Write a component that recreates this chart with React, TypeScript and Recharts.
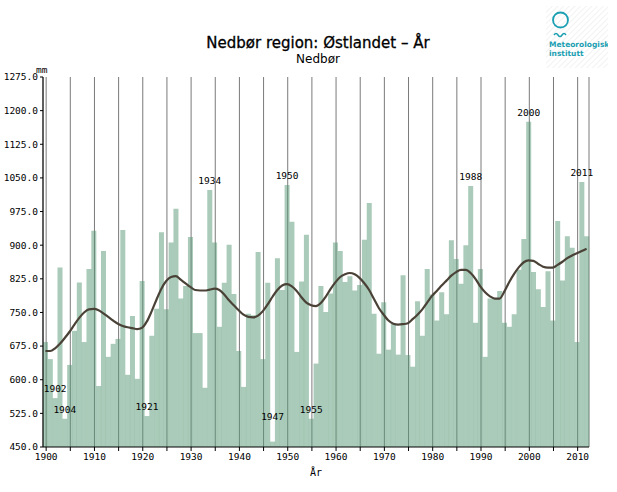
import React from "react";
import { ComposedChart, Bar, Line, XAxis, YAxis, CartesianGrid, LabelList } from "recharts";

const firstYear = 1900;

// årsnedbør Østlandet, mm (1900-2012)
const precipitation = [
  684, 646, 559, 850, 513, 633, 709, 817, 684, 847,
  932, 586, 887, 651, 680, 691, 934, 611, 742, 602,
  820, 519, 698, 758, 929, 757, 906, 981, 781, 809,
  918, 704, 704, 582, 1023, 906, 718, 816, 901, 791,
  664, 584, 747, 744, 885, 646, 816, 462, 871, 800,
  1034, 952, 662, 819, 923, 513, 636, 809, 751, 792,
  906, 887, 818, 831, 799, 811, 912, 994, 747, 658,
  773, 667, 725, 656, 833, 655, 629, 775, 698, 847,
  790, 732, 795, 746, 911, 869, 814, 900, 1032, 727,
  847, 651, 781, 782, 798, 727, 718, 746, 845, 914,
  1175, 840, 802, 762, 842, 732, 954, 821, 920, 894,
  684, 1041, 920,
];

// glattet kurve
const smoothed = [
  664, 664, 670, 680, 693, 707, 723, 738, 750, 757,
  758, 755, 748, 740, 732, 725, 720, 717, 715, 713,
  716, 730, 753, 779, 803, 820, 829, 831, 823, 815,
  807, 800, 799, 799, 801, 803, 800, 790, 777, 766,
  755, 745, 740, 739, 743, 753, 768, 785, 800, 810,
  813, 808, 798, 784, 772, 766, 764, 771, 785, 802,
  817, 829, 835, 838, 835, 827, 815, 800, 780, 760,
  745, 732, 725, 723, 724, 726, 735, 745, 757, 772,
  787, 798, 810, 821, 832, 840, 845, 845, 838, 825,
  808, 795, 786, 781, 781, 797, 818, 836, 851, 862,
  866, 865, 858, 852, 850, 850, 856, 863, 871, 877,
  882, 887, 892,
];

const markedYears = [1902, 1904, 1921, 1934, 1947, 1950, 1955, 1988, 2000, 2011];
const yTicks = [450, 525, 600, 675, 750, 825, 900, 975, 1050, 1125, 1200, 1275];
const xTicks = [1900, 1905, 1910, 1915, 1920, 1925, 1930, 1935, 1940, 1945, 1950, 1955, 1960, 1965, 1970, 1975, 1980, 1985, 1990, 1995, 2000, 2005, 2010];

const chartData = precipitation.map((v, i) => {
  const year = firstYear + i;
  return { year, value: v, trend: smoothed[i], label: markedYears.includes(year) ? String(year) : "" };
});

const mono = "'DejaVu Sans Mono', monospace";
const tickStyle = { fontSize: 9.5, fill: "#000", fontFamily: mono };

const renderMark = (props: any) => {
  const { x, y, width, value } = props;
  if (!value) return null;
  // labels never sit lower than this baseline
  const ty = Math.min(Number(y) - 6, 420);
  return (
    <text x={Number(x) + Number(width) / 2} y={ty} textAnchor="middle" fontSize={9.5} fontFamily={mono} fill="#000">
      {value}
    </text>
  );
};

function Logo() {
  const teal = "#1b9fb3";
  return (
    <svg width={62} height={62} style={{ position: "absolute", left: 546, top: 6 }}>
      <defs>
        <pattern id="hatch" width={4} height={4} patternUnits="userSpaceOnUse" patternTransform="rotate(45)">
          <line x1={0} y1={0} x2={0} y2={4} stroke="#eeeeee" strokeWidth={1.5} />
        </pattern>
      </defs>
      <rect x={0} y={0} width={62} height={62} fill="url(#hatch)" />
      <circle cx={14.5} cy={14} r={7.5} fill="none" stroke={teal} strokeWidth={1.8} />
      <path d="M8 29 q2 -3 4 0 t4 0 t4 0" fill="none" stroke={teal} strokeWidth={1.5} />
      <text x={3} y={41} fontSize={7.5} fontWeight="bold" fill={teal} fontFamily="'DejaVu Sans', sans-serif">Meteorologisk</text>
      <text x={3} y={50} fontSize={7.5} fontWeight="bold" fill={teal} fontFamily="'DejaVu Sans', sans-serif">institutt</text>
    </svg>
  );
}

export default function App() {
  return (
    <div style={{ position: "absolute", left: 0, top: 0, width: 617, height: 492, background: "#fff", fontFamily: "'DejaVu Sans', sans-serif", color: "#000" }}>
      <div style={{ position: "absolute", left: 318, top: 35, transform: "translateX(-50%)", fontSize: 15, whiteSpace: "nowrap", lineHeight: "17px", WebkitTextStroke: "0.3px #000" }}>
        Nedbør region: Østlandet – År
      </div>
      <div style={{ position: "absolute", left: 318, top: 52, transform: "translateX(-50%)", fontSize: 12, whiteSpace: "nowrap", lineHeight: "14px" }}>
        Nedbør
      </div>
      <div style={{ position: "absolute", left: 36, top: 64, fontSize: 9.5, fontFamily: mono, color: "#000", lineHeight: "11px" }}>mm</div>
      <Logo />
      <ComposedChart
        width={617}
        height={492}
        data={chartData}
        margin={{ top: 77, right: 28, bottom: 0, left: 3 }}
        barCategoryGap={0}
        barGap={0}
        style={{ position: "absolute", left: 0, top: 0 }}
      >
        <CartesianGrid xAxisId="num" yAxisId="v" horizontal={false} stroke="#7a7a7a" strokeWidth={1} />
        <XAxis xAxisId="cat" dataKey="year" orientation="top" height={0} tick={false} tickLine={false} axisLine={{ stroke: "#000" }} />
        <XAxis
          xAxisId="num"
          dataKey="year"
          type="number"
          domain={[1899.35, 2012.35]}
          allowDataOverflow
          ticks={xTicks}
          interval={0}
          height={45}
          tick={tickStyle}
          tickSize={4}
          tickLine={{ stroke: "#000" }}
          axisLine={{ stroke: "#000" }}
          tickFormatter={(v: number) => (v % 10 === 0 ? String(v) : "")}
          label={{ value: "År", position: "insideBottom", offset: 16, fontSize: 10, fill: "#000", fontFamily: mono }}
        />
        <YAxis
          yAxisId="v"
          domain={[450, 1275]}
          ticks={yTicks}
          interval={0}
          allowDataOverflow
          width={40}
          tick={tickStyle}
          tickSize={3}
          tickLine={{ stroke: "#000" }}
          axisLine={{ stroke: "#000" }}
          tickFormatter={(v: number) => v.toFixed(1)}
        />
        <YAxis yAxisId="r" orientation="right" width={0} tick={false} tickLine={false} axisLine={{ stroke: "#000" }} />
        <Bar xAxisId="cat" yAxisId="v" dataKey="value" fill="#559773" fillOpacity={0.5} isAnimationActive={false}>
          <LabelList dataKey="label" content={renderMark} />
        </Bar>
        <Line
          xAxisId="cat"
          yAxisId="v"
          dataKey="trend"
          type="monotone"
          stroke="#4a4137"
          strokeWidth={2.2}
          dot={false}
          activeDot={false}
          isAnimationActive={false}
        />
      </ComposedChart>
    </div>
  );
}
